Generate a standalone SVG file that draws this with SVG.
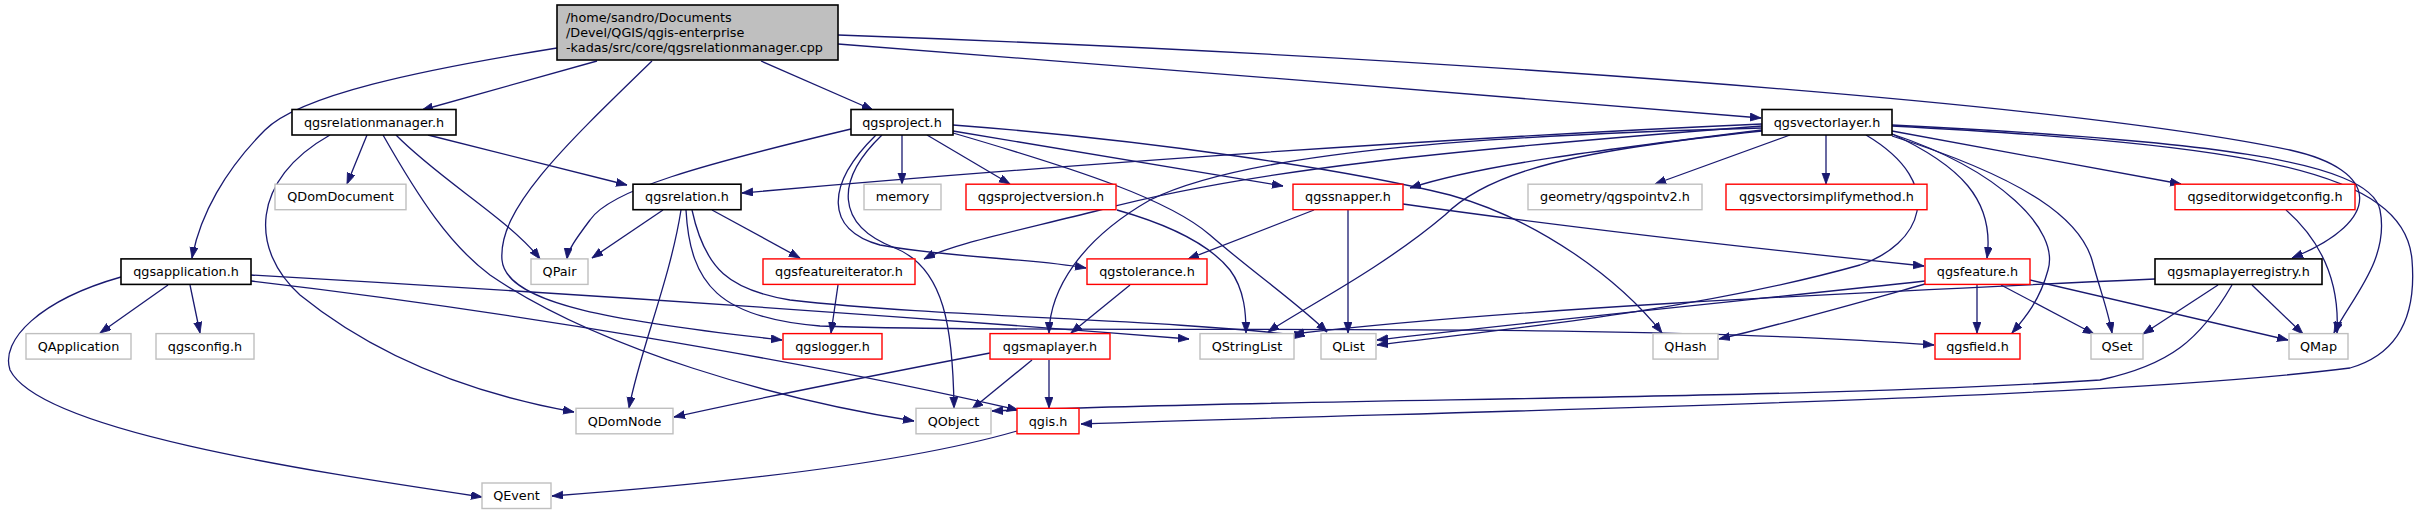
<svg xmlns="http://www.w3.org/2000/svg" width="2427" height="515" viewBox="0 0 2427 515">
<style>
rect{fill:#fff;stroke-width:1.4}
.k{stroke:#000;stroke-width:1.6}
.g{stroke:#bfbfbf}
.r{stroke:#ff0000}
.root{fill:#bfbfbf;stroke:#000;stroke-width:1.6}
text{font-family:"DejaVu Sans",sans-serif;font-size:12.8px;fill:#000;text-anchor:middle}
.l{text-anchor:start}
#edges path{fill:none;stroke:#191970;stroke-width:1.3;marker-end:url(#a)}
</style>
<defs>
<marker id="a" markerUnits="userSpaceOnUse" markerWidth="12" markerHeight="9" refX="11" refY="4" orient="auto">
<path d="M0,0 L11,4 L0,8 z" fill="#191970" stroke="#191970" stroke-width="0.8"/>
</marker>
</defs>
<rect x="0" y="0" width="2427" height="515" style="fill:#fff;stroke:none"/>
<g id="edges">
<!-- root -->
<path d="M557,48 C420,70 300,95 265,130 C225,170 200,215 192,258"/>
<path d="M597,61 L422,110"/>
<path d="M652,61 C560,150 498,210 502,260 C506,305 620,322 782,340"/>
<path d="M761,61 L873,110"/>
<path d="M838,44 C1100,65 1500,95 1761,118"/>
<path d="M838,35 C1400,55 2050,100 2290,150 C2380,170 2385,220 2292,258"/>
<!-- qgsrelationmanager.h -->
<path d="M330,135 C250,180 250,250 300,295 C380,360 480,395 574,412"/>
<path d="M367,135 L347,184"/>
<path d="M383,135 C420,200 450,245 490,275 C600,350 780,400 914,421"/>
<path d="M396,135 C440,180 510,220 540,259"/>
<path d="M428,135 L627,185"/>
<!-- qgsproject.h -->
<path d="M851,129 C700,165 610,190 590,220 C575,240 568,250 567,259"/>
<path d="M902,135 L902,184"/>
<path d="M927,135 L1010,184"/>
<path d="M953,131 L1283,186"/>
<path d="M953,125 C1150,140 1350,170 1450,195 C1540,220 1620,280 1662,333"/>
<path d="M953,133 C1080,170 1170,200 1210,235 C1250,270 1300,305 1327,332"/>
<path d="M882,135 C835,180 835,225 895,248 C945,268 953,330 954,408"/>
<path d="M876,135 C825,185 825,230 880,245 C950,258 1030,258 1086,268"/>
<!-- qgsrelation.h -->
<path d="M663,210 L592,258"/>
<path d="M681,210 C670,280 640,350 629,408"/>
<path d="M692,210 C705,270 730,290 790,300 C950,318 1150,318 1305,336"/>
<path d="M686,210 C690,285 720,318 820,326 C1050,335 1600,320 1934,345"/>
<path d="M712,210 L800,258"/>
<!-- qgsprojectversion.h -->
<path d="M1117,210 C1170,225 1210,245 1230,270 C1245,290 1246,315 1246,333"/>
<!-- qgssnapper.h -->
<path d="M1314,210 L1188,259"/>
<path d="M1348,210 L1348,333"/>
<path d="M1403,204 C1550,225 1750,248 1924,266"/>
<!-- qgsvectorlayer.h -->
<path d="M1762,124 C1400,140 1000,170 742,193"/>
<path d="M1762,126 C1450,150 1250,170 1100,210 C1000,235 950,245 924,259"/>
<path d="M1762,128 C1500,135 1250,150 1150,200 C1080,240 1050,290 1049,333"/>
<path d="M1762,131 C1580,150 1490,170 1445,215 C1380,270 1300,310 1268,332"/>
<path d="M1762,130 C1600,150 1480,165 1410,188"/>
<path d="M1790,135 L1655,184"/>
<path d="M1826,135 L1826,184"/>
<path d="M1890,133 C1960,165 1995,200 1987,258"/>
<path d="M1866,135 C1950,185 1920,245 1860,265 C1700,310 1500,330 1377,345"/>
<path d="M1892,134 C2000,170 2060,230 2048,270 C2040,300 2025,318 2012,333"/>
<path d="M1892,136 C2030,180 2080,220 2092,260 C2100,290 2108,310 2112,333"/>
<path d="M1892,131 L2181,184"/>
<path d="M1892,125 C2200,140 2370,160 2380,210 C2390,260 2350,300 2334,333"/>
<path d="M1892,126 C2250,145 2405,170 2412,260 C2417,320 2395,355 2350,368 C2100,400 1500,410 1081,424"/>
<!-- qgseditorwidgetconfig.h -->
<path d="M2286,210 C2320,240 2340,280 2337,333"/>
<!-- qgsapplication.h -->
<path d="M121,277 C40,300 0,340 10,370 C40,430 300,470 482,497"/>
<path d="M168,285 L100,333"/>
<path d="M190,285 L200,333"/>
<path d="M251,275 C600,295 950,320 1189,339"/>
<path d="M251,281 C500,310 800,360 1018,410"/>
<!-- qgsfeatureiterator.h -->
<path d="M838,285 L831,333"/>
<!-- qgstolerance.h -->
<path d="M1130,285 L1071,333"/>
<!-- qgsfeature.h -->
<path d="M1977,285 L1977,333"/>
<path d="M2001,285 L2094,334"/>
<path d="M2030,280 L2288,340"/>
<path d="M1925,284 C1850,305 1780,325 1719,339"/>
<path d="M1925,281 C1750,300 1500,325 1377,340"/>
<!-- qgsmaplayerregistry.h -->
<path d="M2218,285 L2143,334"/>
<path d="M2252,285 L2303,334"/>
<path d="M2232,285 C2200,340 2170,365 2100,380 C1800,400 1300,398 992,411"/>
<path d="M2155,279 C1800,295 1500,310 1293,334"/>
<!-- qgsmaplayer.h -->
<path d="M990,353 C850,380 750,400 674,417"/>
<path d="M1032,360 L972,409"/>
<path d="M1049,360 L1049,408"/>
<!-- qgis.h -->
<path d="M1017,431 C900,465 700,485 552,496"/>
</g>
<g id="n_root"><rect class="root" x="557" y="5" width="281" height="55"/>
<text class="l" x="566" y="22">/home/sandro/Documents</text>
<text class="l" x="566" y="36.8">/Devel/QGIS/qgis-enterprise</text>
<text class="l" x="566" y="51.6">-kadas/src/core/qgsrelationmanager.cpp</text></g>
<g id="n_relmgr"><rect class="k" x="292" y="109.5" width="164" height="25.5"/><text x="374" y="126.7">qgsrelationmanager.h</text></g>
<g id="n_project"><rect class="k" x="851" y="109.5" width="102" height="25.5"/><text x="902" y="126.7">qgsproject.h</text></g>
<g id="n_vlayer"><rect class="k" x="1762" y="109.5" width="130" height="25.5"/><text x="1827" y="126.7">qgsvectorlayer.h</text></g>
<g id="n_qdomdoc"><rect class="g" x="275" y="184.2" width="131" height="25.5"/><text x="340.5" y="201.4">QDomDocument</text></g>
<g id="n_relation"><rect class="k" x="633" y="184.2" width="108" height="25.5"/><text x="687" y="201.4">qgsrelation.h</text></g>
<g id="n_memory"><rect class="g" x="864" y="184.2" width="77" height="25.5"/><text x="902.5" y="201.4">memory</text></g>
<g id="n_projver"><rect class="r" x="966" y="184.2" width="150" height="25.5"/><text x="1041" y="201.4">qgsprojectversion.h</text></g>
<g id="n_snapper"><rect class="r" x="1293" y="184.2" width="110" height="25.5"/><text x="1348" y="201.4">qgssnapper.h</text></g>
<g id="n_pointv2"><rect class="g" x="1528" y="184.2" width="174" height="25.5"/><text x="1615" y="201.4">geometry/qgspointv2.h</text></g>
<g id="n_simplify"><rect class="r" x="1726" y="184.2" width="201" height="25.5"/><text x="1826.5" y="201.4">qgsvectorsimplifymethod.h</text></g>
<g id="n_editor"><rect class="r" x="2175" y="184.2" width="180" height="25.5"/><text x="2265" y="201.4">qgseditorwidgetconfig.h</text></g>
<g id="n_app"><rect class="k" x="121" y="258.9" width="130" height="25.5"/><text x="186" y="276.1">qgsapplication.h</text></g>
<g id="n_qpair"><rect class="g" x="531" y="258.9" width="57" height="25.5"/><text x="559.5" y="276.1">QPair</text></g>
<g id="n_featit"><rect class="r" x="763" y="258.9" width="152" height="25.5"/><text x="839" y="276.1">qgsfeatureiterator.h</text></g>
<g id="n_tol"><rect class="r" x="1087" y="258.9" width="120" height="25.5"/><text x="1147" y="276.1">qgstolerance.h</text></g>
<g id="n_feature"><rect class="r" x="1925" y="258.9" width="105" height="25.5"/><text x="1977.5" y="276.1">qgsfeature.h</text></g>
<g id="n_registry"><rect class="k" x="2155" y="258.9" width="167" height="25.5"/><text x="2238.5" y="276.1">qgsmaplayerregistry.h</text></g>
<g id="n_qapp"><rect class="g" x="26" y="333.6" width="105" height="25.5"/><text x="78.5" y="350.8">QApplication</text></g>
<g id="n_config"><rect class="g" x="156" y="333.6" width="98" height="25.5"/><text x="205" y="350.8">qgsconfig.h</text></g>
<g id="n_logger"><rect class="r" x="783" y="333.6" width="99" height="25.5"/><text x="832.5" y="350.8">qgslogger.h</text></g>
<g id="n_maplayer"><rect class="r" x="990" y="333.6" width="120" height="25.5"/><text x="1050" y="350.8">qgsmaplayer.h</text></g>
<g id="n_qstringlist"><rect class="g" x="1200" y="333.6" width="94" height="25.5"/><text x="1247" y="350.8">QStringList</text></g>
<g id="n_qlist"><rect class="g" x="1321" y="333.6" width="55" height="25.5"/><text x="1348.5" y="350.8">QList</text></g>
<g id="n_qhash"><rect class="g" x="1653" y="333.6" width="65" height="25.5"/><text x="1685.5" y="350.8">QHash</text></g>
<g id="n_field"><rect class="r" x="1935" y="333.6" width="85" height="25.5"/><text x="1977.5" y="350.8">qgsfield.h</text></g>
<g id="n_qset"><rect class="g" x="2091" y="333.6" width="52" height="25.5"/><text x="2117" y="350.8">QSet</text></g>
<g id="n_qmap"><rect class="g" x="2289" y="333.6" width="59" height="25.5"/><text x="2318.5" y="350.8">QMap</text></g>
<g id="n_qdomnode"><rect class="g" x="576" y="408.3" width="97" height="25.5"/><text x="624.5" y="425.5">QDomNode</text></g>
<g id="n_qobject"><rect class="g" x="916" y="408.3" width="75" height="25.5"/><text x="953.5" y="425.5">QObject</text></g>
<g id="n_qgis"><rect class="r" x="1017" y="408.3" width="62" height="25.5"/><text x="1048" y="425.5">qgis.h</text></g>
<g id="n_qevent"><rect class="g" x="482" y="483" width="69" height="25.5"/><text x="516.5" y="500.2">QEvent</text></g>
</svg>
